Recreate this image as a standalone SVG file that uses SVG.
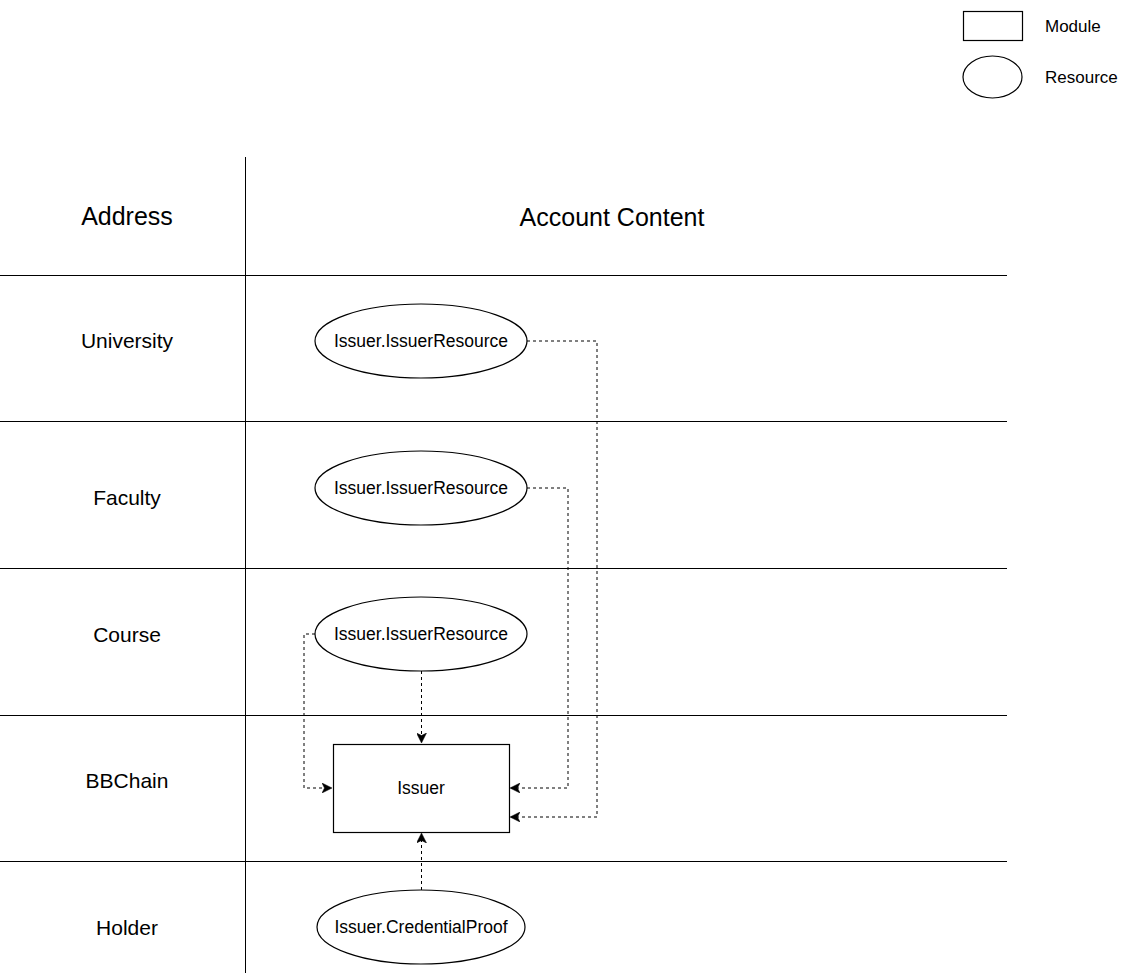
<svg xmlns="http://www.w3.org/2000/svg" width="1126" height="973" viewBox="0 0 1126 973">
  <style>
    .grid { stroke: #000; stroke-width: 1; fill: none; }
    .shape { fill: #fff; stroke: #000; stroke-width: 1.2; }
    .label { font-family: "Liberation Sans", Arial, sans-serif; fill: #000; text-anchor: middle; }
    .head { font-size: 25px; }
    .row { font-size: 21px; }
    .small { font-size: 17.5px; }
    .legend { font-family: "Liberation Sans", Arial, sans-serif; font-size: 17px; fill: #000; }
    .link { fill: none; stroke: #000; stroke-width: 1; stroke-dasharray: 3 3; }
  </style>
  <defs>
    <marker id="arrow" viewBox="0 0 10 10" refX="9" refY="5" markerWidth="10" markerHeight="10" markerUnits="userSpaceOnUse" orient="auto">
      <path d="M0,0 L10,5 L0,10 L2.5,5 Z" fill="#000" stroke="#000" stroke-width="0.5"/>
    </marker>
  </defs>
  <rect width="1126" height="973" fill="#fff"/>

  <!-- legend -->
  <g id="legend">
    <rect class="shape" x="963.5" y="11.5" width="59" height="29"/>
    <text class="legend" x="1045" y="32">Module</text>
    <ellipse class="shape" cx="992.5" cy="77" rx="29.5" ry="21"/>
    <text class="legend" x="1045" y="83">Resource</text>
  </g>

  <!-- table grid -->
  <g id="grid">
    <line class="grid" x1="245.5" y1="157" x2="245.5" y2="973"/>
    <line class="grid" x1="0" y1="275.5" x2="1007" y2="275.5"/>
    <line class="grid" x1="0" y1="421.5" x2="1007" y2="421.5"/>
    <line class="grid" x1="0" y1="568.5" x2="1007" y2="568.5"/>
    <line class="grid" x1="0" y1="715.5" x2="1007" y2="715.5"/>
    <line class="grid" x1="0" y1="861.5" x2="1007" y2="861.5"/>
  </g>

  <!-- headers and row labels -->
  <g id="headers">
    <text class="label head" x="127" y="225">Address</text>
    <text class="label head" x="612" y="226">Account Content</text>
    <text class="label row" x="127" y="348">University</text>
    <text class="label row" x="127" y="505">Faculty</text>
    <text class="label row" x="127" y="642">Course</text>
    <text class="label row" x="127" y="788">BBChain</text>
    <text class="label row" x="127" y="935">Holder</text>
  </g>

  <!-- connectors -->
  <g id="connectors">
    <polyline class="link" points="527,341 597,341 597,817 511,817" marker-end="url(#arrow)"/>
    <polyline class="link" points="527,488 568,488 568,788 511,788" marker-end="url(#arrow)"/>
    <polyline class="link" points="315,634 304,634 304,788 331,788" marker-end="url(#arrow)"/>
    <line class="link" x1="421.5" y1="671" x2="421.5" y2="742" marker-end="url(#arrow)"/>
    <line class="link" x1="421.5" y1="890" x2="421.5" y2="834" marker-end="url(#arrow)"/>
  </g>

  <!-- nodes -->
  <g id="university-resource">
    <ellipse class="shape" cx="421" cy="341" rx="106" ry="37"/>
    <text class="label small" x="421" y="347">Issuer.IssuerResource</text>
  </g>
  <g id="faculty-resource">
    <ellipse class="shape" cx="421" cy="488" rx="106" ry="37"/>
    <text class="label small" x="421" y="494">Issuer.IssuerResource</text>
  </g>
  <g id="course-resource">
    <ellipse class="shape" cx="421" cy="634" rx="106" ry="37"/>
    <text class="label small" x="421" y="640">Issuer.IssuerResource</text>
  </g>
  <g id="issuer-module">
    <rect class="shape" x="333.5" y="744.5" width="176" height="88"/>
    <text class="label small" x="421" y="794">Issuer</text>
  </g>
  <g id="credential-proof">
    <ellipse class="shape" cx="421" cy="927" rx="104" ry="37"/>
    <text class="label small" x="421" y="933">Issuer.CredentialProof</text>
  </g>
</svg>
